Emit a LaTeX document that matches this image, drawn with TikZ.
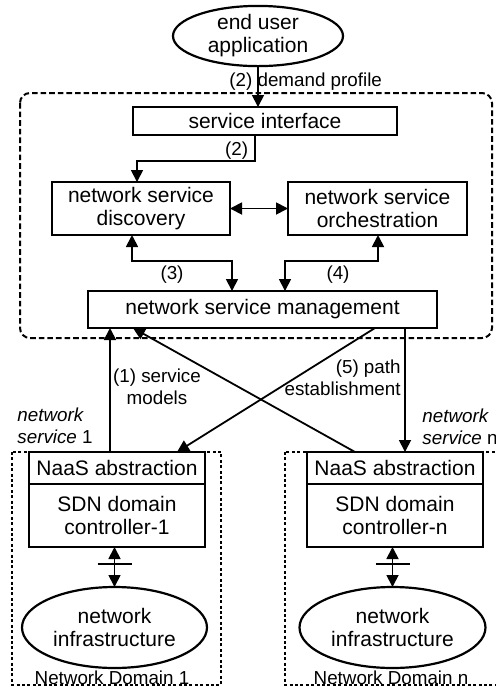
\documentclass[tikz,border=0pt]{standalone}
\usepackage{fontspec}
\setmainfont{Liberation Sans}
\usetikzlibrary{arrows.meta,shapes.geometric}

\begin{document}
\begin{tikzpicture}[x=0.5pt,y=-0.5pt,
	font=\fontsize{10.5}{11.5}\selectfont,
	>={Triangle[length=6pt,width=6pt]},
	box/.style={draw,line width=1.3pt,inner sep=0pt,outer sep=0pt,align=center},
	oval/.style={draw,ellipse,line width=1.1pt,inner sep=0pt,outer sep=0pt,align=center},
	lbl/.style={inner sep=1pt,font=\fontsize{9.4}{10.8}\selectfont},
	fleche/.style={line width=0.9pt},
	domaine/.style={line width=0.6pt,dash pattern=on 1.5pt off 1.2pt}]
	\useasboundingbox (0,0) rectangle (496,687);
	% cadre du haut
	\draw[line width=1pt,dash pattern=on 2.8pt off 1.5pt,rounded corners=5pt] (20,93) rectangle (492,338);
	% domaines
	\draw[domaine] (12,452) rectangle (221,685);
	\draw[domaine] (285,452) rectangle (497,685);
	% noeuds
	\node[oval,minimum width=85pt,minimum height=29.5pt] (app) at (258,36) {end user\\application};
	\node[box,minimum width=132pt,minimum height=14pt] (si) at (265,121) {service interface};
	\node[box,minimum width=89pt,minimum height=26.5pt] (disc) at (141,208.5) {network service\\discovery};
	\node[box,minimum width=89.5pt,minimum height=26.5pt] (orch) at (377.5,208.5) {network service\\orchestration};
	\node[box,minimum width=174.5pt,minimum height=18.5pt] (nsm) at (262.5,309.5) {network service management};
	\node[box,minimum width=88pt,minimum height=16pt] (naas1) at (117,468) {NaaS abstraction};
	\node[box,minimum width=88pt,minimum height=31.5pt,anchor=north] (sdn1) at (naas1.south) {SDN domain\\controller-1};
	\node[box,minimum width=88pt,minimum height=16pt] (naasn) at (395,468) {NaaS abstraction};
	\node[box,minimum width=88pt,minimum height=31.5pt,anchor=north] (sdnn) at (naasn.south) {SDN domain\\controller-n};
	\node[oval,minimum width=92.5pt,minimum height=40.5pt] (infra1) at (114.5,627.5) {network\\infrastructure};
	\node[oval,minimum width=93pt,minimum height=40.5pt] (infran) at (392.5,627.5) {network\\infrastructure};
	% etiquettes
	\node[lbl,anchor=west] (dp) at (227,82) {(2) demand profile};
	\node[lbl] (l3) at (172,275) {(3)};
	\node[lbl] (l4) at (338,275) {(4)};
	\node[lbl,align=center] (l1) at (157,387) {(1) service\\models};
	\node[lbl,align=right,anchor=east] (l5) at (403,378) {(5) path\\establishment};
	\node[lbl,align=left,anchor=west] (ns1) at (15,426) {\textit{network}\\\textit{service} 1};
	\node[lbl,align=left,anchor=west] (nsn) at (420,427) {\textit{network}\\\textit{service} n};
	\node[lbl,anchor=base] (nd1) at (112,684) {Network Domain 1};
	\node[lbl,anchor=base] (ndn) at (391,684) {Network Domain n};
	% fleches du haut
	\draw[fleche,->] (app.south) -- (app.south |- si.north);
	\draw[fleche,->] ([xshift=-5pt]si.south) -- ++(0,26) node[lbl,pos=0.6,left,xshift=-2pt] {(2)} -| ([xshift=-2pt]disc.north);
	\draw[fleche,<->] (disc) -- (orch);
	\draw[fleche,<->] ([xshift=-4.5pt]disc.south) -- ++(0,26) -| ([xshift=-15.25pt]nsm.north);
	\draw[fleche,<->] ([xshift=11.25pt]nsm.north) -- ++(0,-30) -| ([xshift=0.25pt]orch.south);
	% fleches vers les domaines
	\draw[fleche,->] ([xshift=-3.5pt]naas1.north) coordinate (p1) -- (p1 |- nsm.south);
	\draw[fleche,->] ([xshift=-20pt]naasn.north) -- ([xshift=-64.75pt]nsm.south);
	\draw[fleche,->] ([xshift=56.25pt]nsm.south) -- ([xshift=30pt]naas1.north);
	\draw[fleche,->] ([xshift=71.25pt]nsm.south) coordinate (p5) -- (p5 |- naasn.north);
	% controleur - infrastructure
	\foreach \d in {1,n} {
		\draw[fleche,<->] (sdn\d.south -| infra\d) -- (infra\d.north);
		\draw[fleche] (sdn\d.south -| infra\d) ++(-17,17) -- ++(34,0);
	}
\end{tikzpicture}
\end{document}
